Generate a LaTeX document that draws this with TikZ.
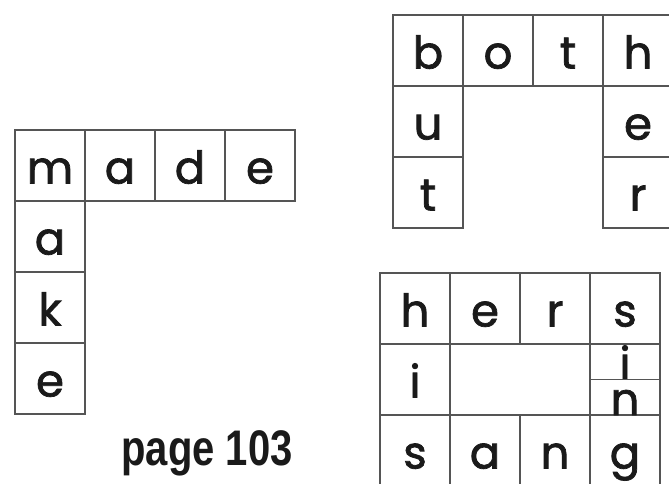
\documentclass[tikz,border=0pt]{standalone}
\usepackage{fontspec}
\usepackage{xcolor}
\usepackage{tikz}
\usetikzlibrary{positioning}
\newfontfamily\cellfont{Poppins}[FakeBold=1.6]
\newfontfamily\pagefont{Liberation Sans}
\definecolor{ink}{HTML}{1A1A1A}
\definecolor{rule}{HTML}{555555}
\tikzset{
  cell/.style={rectangle, draw=rule, line width=1.4pt, minimum width=70pt,
              minimum height=71pt, inner sep=0pt, outer sep=0pt,
              text height=36pt, text depth=0pt, text=ink,
              font=\cellfont\fontsize{45}{48}\selectfont},
  half/.style={cell, minimum height=35.5pt, text height=35.5pt},
  pg/.style={font=\pagefont\bfseries\fontsize{50}{52}\selectfont,
              text=ink, inner sep=0pt},
}
\begin{document}
\begin{tikzpicture}[x=1pt, y=-1pt]
\useasboundingbox (0,0) rectangle (669,483);
\clip (0,0) rectangle (669,483);

% --- made / make --------------------------------------------------------
\node[cell, anchor=north west] (Lm) at (15,130) {m};
\node[cell, right=0pt of Lm] (La) {a};
\node[cell, right=0pt of La] (Ld) {d};
\node[cell, right=0pt of Ld] (Le) {e};
\node[cell, below=0pt of Lm] (Lka) {a};
\node[cell, below=0pt of Lka] (Lkk) {k};
\node[cell, below=0pt of Lkk] (Lke) {e};

\node[pg, anchor=base] (page) at (207,465) {\scalebox{0.8}[1]{page 103}};

% --- both / but / her ---------------------------------------------------
\node[cell, anchor=north west] (Tb) at (393,15) {b};
\node[cell, right=0pt of Tb] (To) {o};
\node[cell, right=0pt of To] (Tt) {t};
\node[cell, right=0pt of Tt] (Th) {h};
\node[cell, below=0pt of Tb] (Tu) {u};
\node[cell, below=0pt of Tu] (Tut) {t};
\node[cell, below=0pt of Th] (Te) {e};
\node[cell, below=0pt of Te] (Tr) {r};

% --- hers / his / sang / sing -------------------------------------------
\node[cell, anchor=north west] (Rh) at (380,273) {h};
\node[cell, right=0pt of Rh] (Re) {e};
\node[cell, right=0pt of Re] (Rr) {r};
\node[cell, right=0pt of Rr] (Rs) {s};
\node[cell, below=0pt of Rh] (Ri) {i};
\node[cell, below=0pt of Ri] (Rss) {s};
\node[cell, right=0pt of Rss] (Ra) {a};
\node[cell, right=0pt of Ra] (Rn) {n};
\node[cell, right=0pt of Rn] (Rg) {g};
\node[half, below=0pt of Rs] (Rsi) {i};
\node[half, below=0pt of Rsi] (Rsn) {n};
\end{tikzpicture}
\end{document}
